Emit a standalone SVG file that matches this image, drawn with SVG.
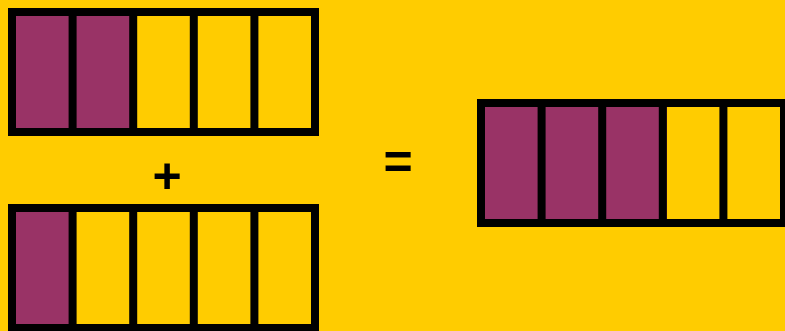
<svg xmlns="http://www.w3.org/2000/svg" width="785" height="331" viewBox="0 0 785 331">
<style>
.bar{fill:#FFCC00;stroke:#000;stroke-width:8}
.p{fill:#993366}
.d{stroke:#000;stroke-width:8}
.op{font-family:"Liberation Sans",Arial,sans-serif;font-weight:bold;font-size:50px;fill:#000;text-anchor:middle}
</style>
<rect width="785" height="331" fill="#FFCC00"/>
<g id="bar1">
<rect class="bar" x="12" y="12" width="303" height="120"/>
<rect class="p" x="16" y="16" width="57" height="112"/>
<rect class="p" x="73" y="16" width="61" height="112"/>
<line class="d" x1="72.6" y1="12" x2="72.6" y2="132"/>
<line class="d" x1="133.2" y1="12" x2="133.2" y2="132"/>
<line class="d" x1="193.8" y1="12" x2="193.8" y2="132"/>
<line class="d" x1="254.4" y1="12" x2="254.4" y2="132"/>
</g>
<g id="bar2">
<rect class="bar" x="12" y="208" width="303" height="120"/>
<rect class="p" x="16" y="212" width="57" height="112"/>
<line class="d" x1="72.6" y1="208" x2="72.6" y2="328"/>
<line class="d" x1="133.2" y1="208" x2="133.2" y2="328"/>
<line class="d" x1="193.8" y1="208" x2="193.8" y2="328"/>
<line class="d" x1="254.4" y1="208" x2="254.4" y2="328"/>
</g>
<g id="bar3">
<rect class="bar" x="481" y="103" width="303" height="120"/>
<rect class="p" x="485" y="107" width="182" height="112"/>
<line class="d" x1="541.6" y1="103" x2="541.6" y2="223"/>
<line class="d" x1="602.2" y1="103" x2="602.2" y2="223"/>
<line class="d" x1="662.8" y1="103" x2="662.8" y2="223"/>
<line class="d" x1="723.4" y1="103" x2="723.4" y2="223"/>
</g>
<g id="plus"><text class="op" x="167" y="193">+</text></g>
<g id="equals"><text class="op" x="398" y="179">=</text></g>
</svg>
